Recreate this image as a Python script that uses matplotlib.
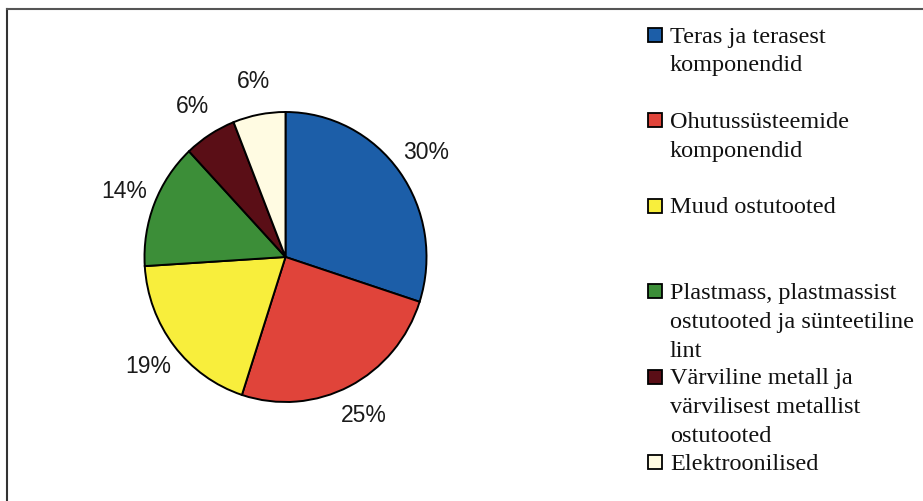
import matplotlib
matplotlib.use("Agg")
import matplotlib.pyplot as plt
from matplotlib.lines import Line2D
from matplotlib.patches import Rectangle

categories = [
    "Teras ja terasest\nkomponendid",
    "Ohutussüsteemide\nkomponendid",
    "Muud ostutooted",
    "Plastmass, plastmassist\nostutooted ja sünteetiline\nlint",
    "Värviline metall ja\nvärvilisest metallist\nostutooted",
    "Elektroonilised",
]
values = [30, 25, 19, 14, 6, 6]
colors = ["#1c5ea8", "#e0443a", "#f8ee3c", "#3c8e38", "#5a0e16", "#fffbe2"]

W, H = 923, 501
fig = plt.figure(figsize=(W / 100, H / 100), dpi=100)

# pie axes: center (285.5,257) px, radii 141 x 145 px (slightly elliptical like the scan)
cx, cy, rx, ry = 285.5, 257, 141, 145
ax = fig.add_axes([(cx - rx) / W, (H - cy - ry) / H, 2 * rx / W, 2 * ry / H])
wedges, texts, autotexts = ax.pie(
    values, colors=colors, startangle=90, counterclock=False,
    autopct="%1.0f%%", pctdistance=1.23, radius=1.0,
    wedgeprops=dict(edgecolor="black", linewidth=1.4),
    textprops=dict(family="Liberation Sans", fontsize=16.5, color="#1a1a1a"),
)
ax.set_aspect("auto")
ax.set_xlim(-1, 1)
ax.set_ylim(-1, 1)
ax.axis("off")

# frame (left and top edges visible)
fig.add_artist(Line2D([7 / W, 7 / W], [0, 1 - 9 / H], transform=fig.transFigure,
                      color="#333333", linewidth=1.5))
fig.add_artist(Line2D([7 / W, 1], [1 - 9 / H, 1 - 9 / H], transform=fig.transFigure,
                      color="#555555", linewidth=1.5))

# legend
mx, msz = 648, 14
tx = 670
y0, slot, lh = 35, 85.4, 29
for i, (lab, col) in enumerate(zip(categories, colors)):
    yc = y0 + i * slot
    fig.add_artist(Rectangle((mx / W, 1 - (yc + msz / 2) / H), msz / W, msz / H,
                             transform=fig.transFigure, facecolor=col,
                             edgecolor="black", linewidth=1.3))
    for j, line in enumerate(lab.split("\n")):
        yb = yc + 7.5 + j * lh
        fig.text(tx / W, 1 - yb / H, line, family="Liberation Serif", fontsize=17.5,
                 va="baseline", ha="left", color="#111111")

fig.savefig("out.png", dpi=100)
